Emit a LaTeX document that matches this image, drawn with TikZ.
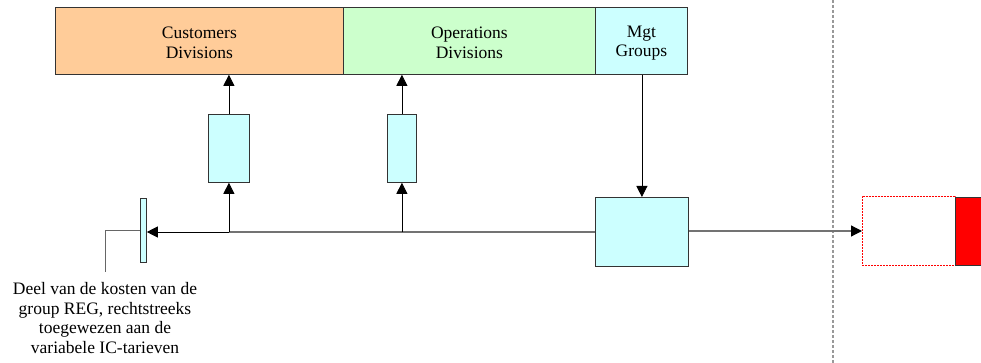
\documentclass[tikz,border=0pt]{standalone}
\usepackage{fontspec}
\setmainfont{Liberation Serif}
\usetikzlibrary{arrows.meta}
\definecolor{peach}{HTML}{FFCC99}
\definecolor{mint}{HTML}{CCFFCC}
\definecolor{aqua}{HTML}{CCFFFF}
\tikzset{
  box/.style={draw=black!80, line width=0.8pt, inner sep=0pt, anchor=north west},
  lbl/.style={font=\fontsize{17.5}{19.5}\selectfont, align=center},
  tip/.style={-{Triangle[length=11pt,width=11pt,color=black]}},
  flow/.style={line width=0.8pt, tip},
  wire/.style={draw=black!55, line width=1.2pt},
}
\begin{document}
\begin{tikzpicture}[x=1pt,y=-1pt]
\useasboundingbox (0,0) rectangle (981,363);
% top row of divisions
\node[box, fill=peach, minimum width=288pt, minimum height=67pt] (cust) at (55,7) {};
\node[box, fill=mint, minimum width=252pt, minimum height=67pt] (ops) at (343,7) {};
\node[box, fill=aqua, minimum width=92pt, minimum height=67pt] (mgt) at (595,7) {};
\node[lbl] at ([yshift=-2pt]cust.center) {Customers\\Divisions};
\node[lbl] at ([yshift=-2pt]ops.center) {Operations\\Divisions};
\node[lbl] at ([yshift=-2pt]mgt.center) {Mgt\\Groups};
% separator
\draw[black!40, line width=1.2pt, dash pattern=on 3pt off 2pt] (833,0) -- (833,363);
% small boxes
\node[box, fill=aqua, minimum width=41pt, minimum height=68pt] (s1) at (208,114) {};
\node[box, fill=aqua, minimum width=29pt, minimum height=68pt] (s2) at (387,114) {};
% central box
\node[box, fill=aqua, minimum width=93pt, minimum height=69pt] (hub) at (595,197) {};
% bar
\node[box, fill=aqua, minimum width=6pt, minimum height=64pt] (bar) at (140,198) {};
% target boxes
\node[box, draw=red, dash pattern=on 2pt off 1pt, minimum width=93pt, minimum height=69pt] (tgt) at (862,196) {};
\node[box, fill=red, minimum width=28pt, minimum height=68pt] (red) at (955,197) {};
% junction points on the main line
\coordinate (j1) at (s1.south |- 0,232);
\coordinate (j2) at (s2.south |- 0,232);
% connectors
\draw[wire] (hub.west |- 0,232) -- (j2) -- (j1);
\draw[flow] (j1) -- (bar.east |- j1);
\draw[flow] (j1) -- (s1.south);
\draw[flow] (j2) -- (s2.south);
\draw[flow] (s1.north) -- (s1.north |- cust.south);
\draw[flow] (s2.north) -- (s2.north |- ops.south);
\draw[flow] (mgt.south -| hub.north) -- (hub.north);
\draw[wire, tip] (hub.east |- 0,231) -- (tgt.west |- 0,231);
\draw[black!60, line width=1pt] (bar.west |- 0,230) -- (105,230) -- (105,272);
\node[lbl, anchor=north] (note) at (105,279) {Deel van de kosten van de\\group REG, rechtstreeks\\toegewezen aan de\\variabele IC-tarieven};
\end{tikzpicture}
\end{document}
